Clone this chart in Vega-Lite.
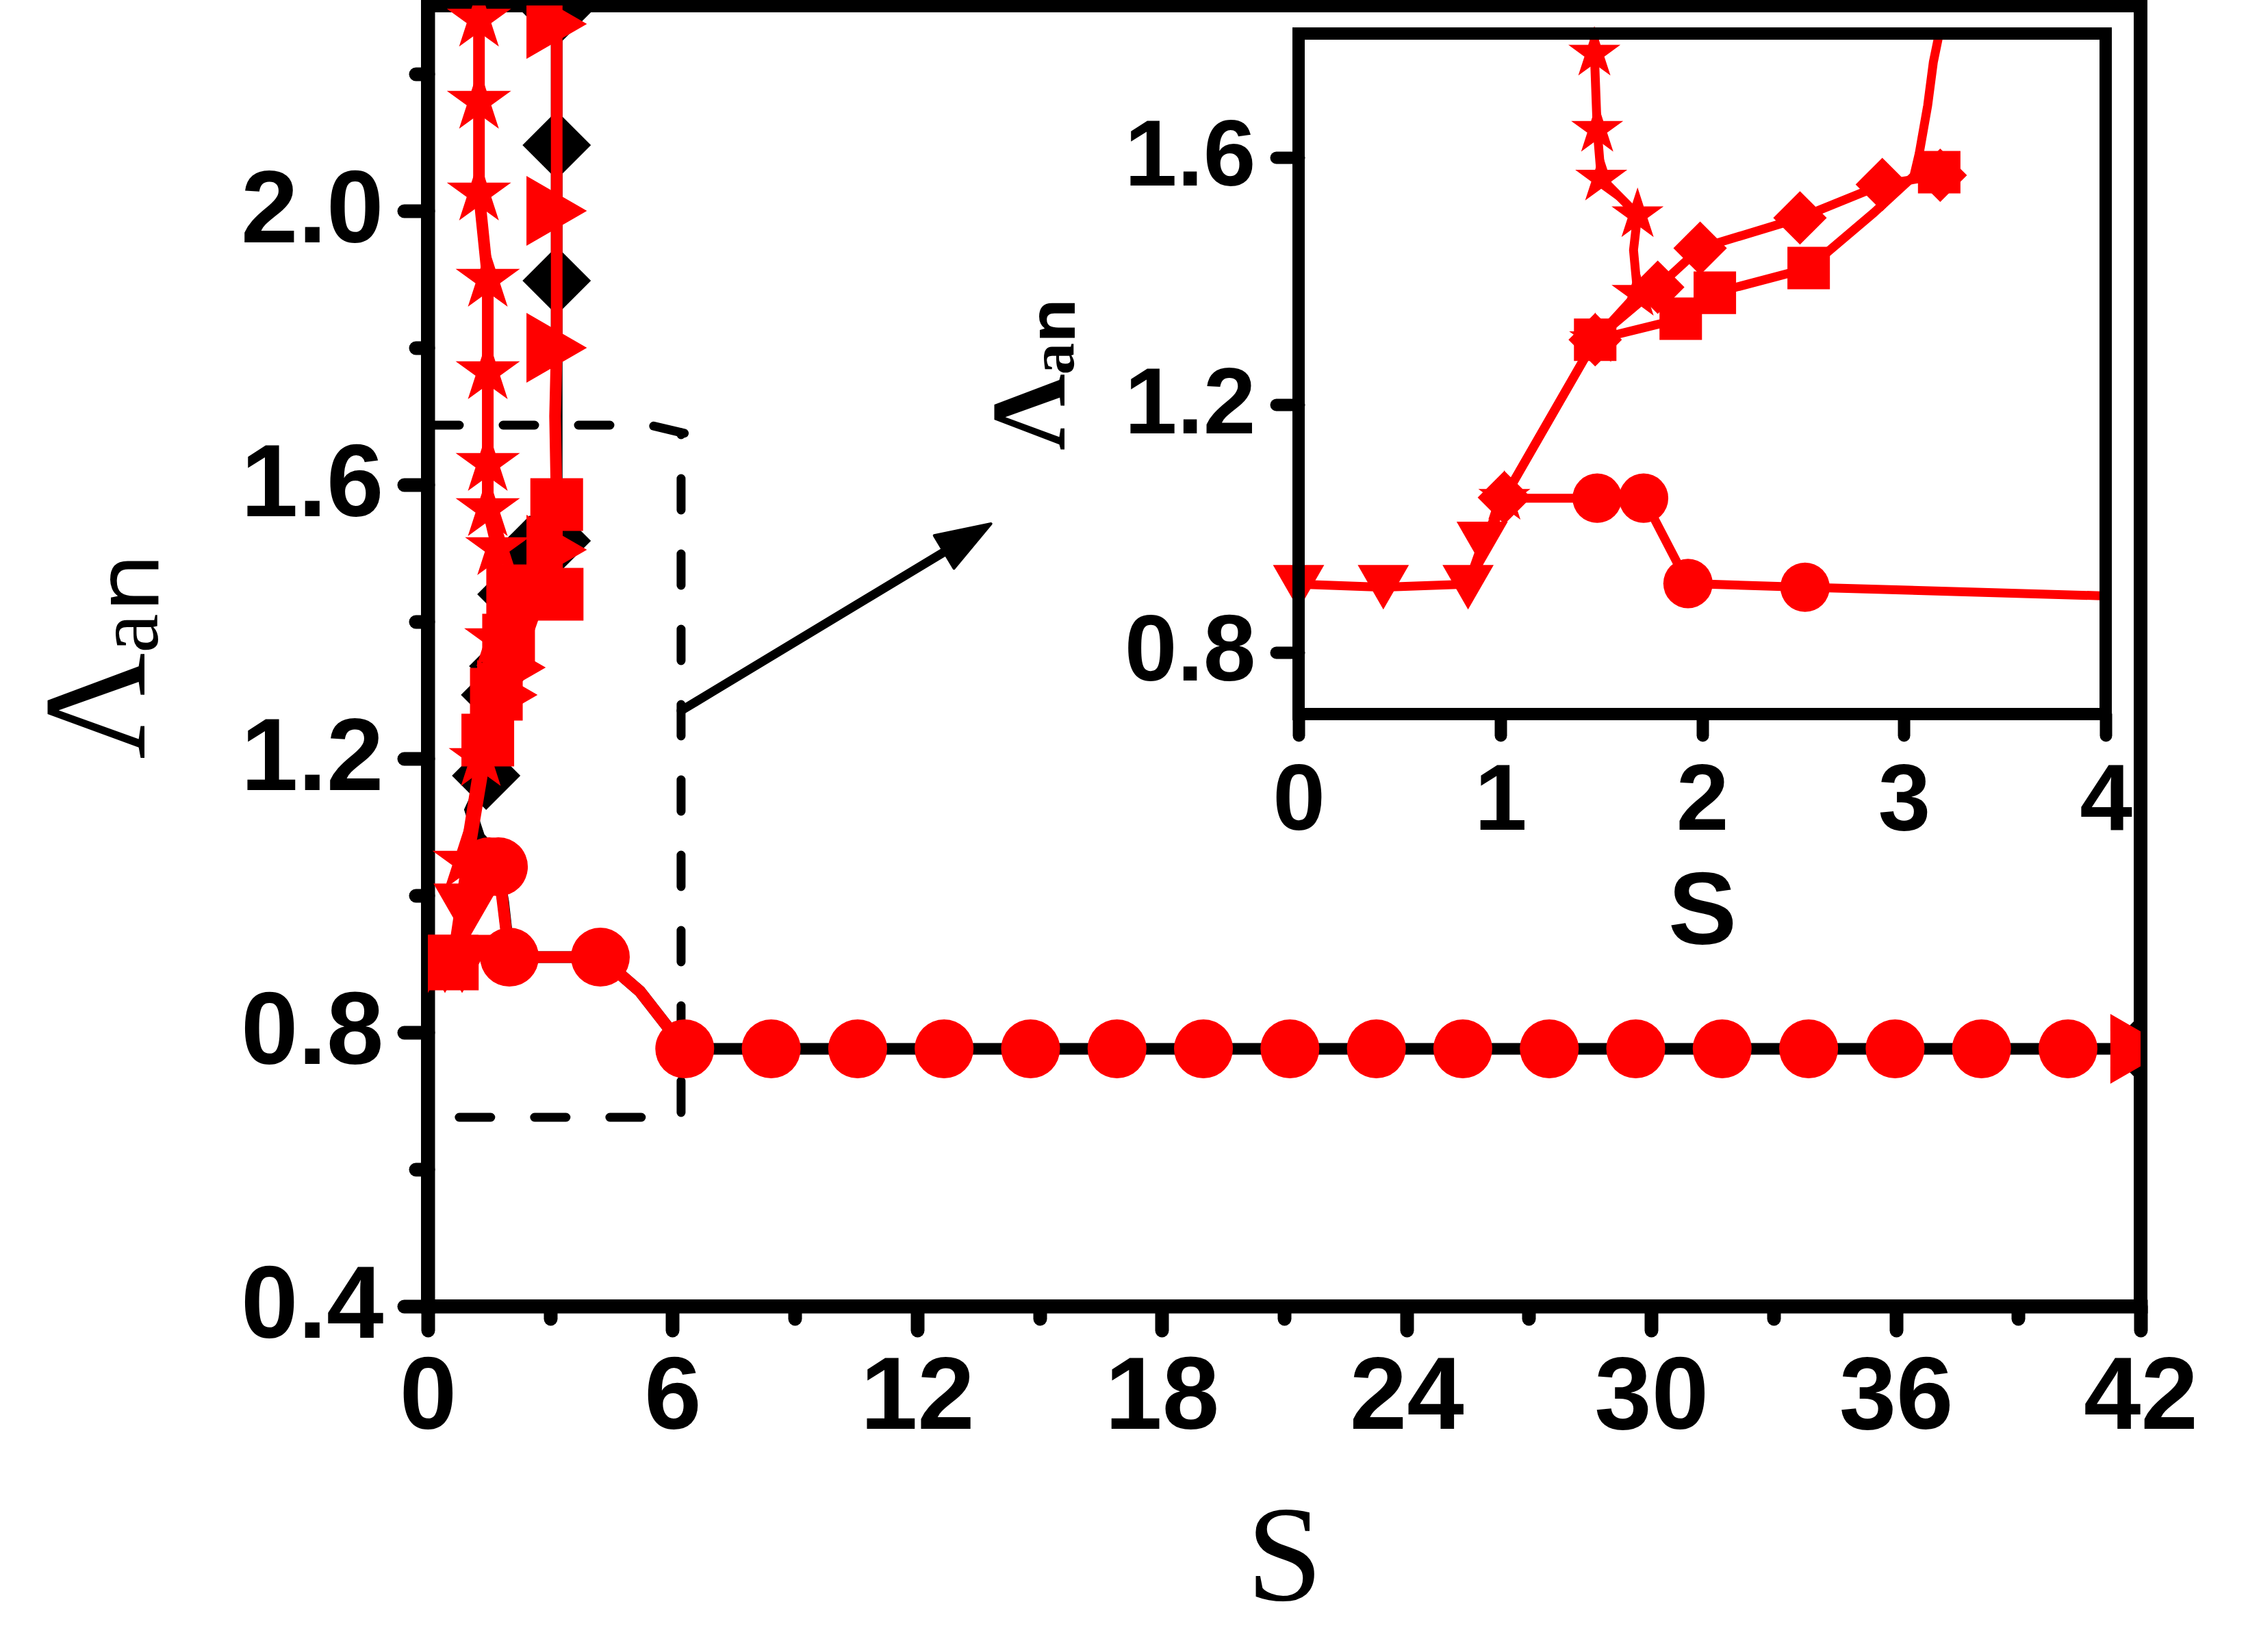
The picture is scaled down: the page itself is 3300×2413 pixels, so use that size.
{
  "$schema": "https://vega.github.io/schema/vega-lite/v6.json",
  "width": 2502,
  "height": 1900,
  "autosize": "none",
  "padding": {"left": 625, "top": 8, "right": 173, "bottom": 505},
  "background": "white",
  "config": {"view": {"stroke": "black", "strokeWidth": 20}, "axis": {"grid": false, "labelLimit": 1000}},
  "datasets": {
    "mainLine": [
      {"g": "tri", "i": 0, "S": 0, "L": 0.905}, {"g": "tri", "i": 1, "S": 0.42, "L": 0.905}, {"g": "tri", "i": 2, "S": 0.84, "L": 0.905}, {"g": "tri", "i": 3, "S": 0.96, "L": 0.975}, {"g": "tri", "i": 4, "S": 1.05, "L": 1.05},
      {"g": "circ", "i": 0, "S": 1.05, "L": 1.045}, {"g": "circ", "i": 1, "S": 1.5, "L": 1.042}, {"g": "circ", "i": 2, "S": 1.73, "L": 1.042}, {"g": "circ", "i": 3, "S": 2.0, "L": 0.91}, {"g": "circ", "i": 4, "S": 4.23, "L": 0.91}, {"g": "circ", "i": 5, "S": 5.2, "L": 0.86}, {"g": "circ", "i": 6, "S": 6.3, "L": 0.776},
      {"g": "star", "i": 0, "S": 0.9, "L": 1.05}, {"g": "star", "i": 1, "S": 1.3, "L": 1.2}, {"g": "star", "i": 2, "S": 1.68, "L": 1.375}, {"g": "star", "i": 3, "S": 1.7, "L": 1.508}, {"g": "star", "i": 4, "S": 1.47, "L": 1.565}, {"g": "star", "i": 5, "S": 1.47, "L": 1.631}, {"g": "star", "i": 6, "S": 1.47, "L": 1.765}, {"g": "star", "i": 7, "S": 1.47, "L": 1.9}, {"g": "star", "i": 8, "S": 1.254, "L": 2.026}, {"g": "star", "i": 9, "S": 1.254, "L": 2.16}, {"g": "star", "i": 10, "S": 1.254, "L": 2.28}, {"g": "star", "i": 11, "S": 1.254, "L": 2.4},
      {"g": "sq", "i": 0, "S": 0.6, "L": 0.9}, {"g": "sq", "i": 1, "S": 1.0, "L": 1.06}, {"g": "sq", "i": 2, "S": 1.47, "L": 1.227}, {"g": "sq", "i": 3, "S": 1.68, "L": 1.294}, {"g": "sq", "i": 4, "S": 1.98, "L": 1.373}, {"g": "sq", "i": 5, "S": 2.08, "L": 1.445}, {"g": "sq", "i": 6, "S": 3.17, "L": 1.44}, {"g": "sq", "i": 7, "S": 3.16, "L": 1.571}, {"g": "sq", "i": 8, "S": 3.12, "L": 1.7}, {"g": "sq", "i": 9, "S": 3.16, "L": 1.8}, {"g": "sq", "i": 10, "S": 3.16, "L": 2.0}, {"g": "sq", "i": 11, "S": 3.16, "L": 2.273}, {"g": "sq", "i": 12, "S": 3.16, "L": 2.4},
      {"g": "trir", "i": 0, "S": 1.47, "L": 1.2}, {"g": "trir", "i": 1, "S": 1.95, "L": 1.293}, {"g": "trir", "i": 2, "S": 2.15, "L": 1.333}, {"g": "trir", "i": 3, "S": 3.16, "L": 1.505}, {"g": "trir", "i": 4, "S": 3.16, "L": 1.571}
    ],
    "blkLine": [
      {"i": 0, "S": 42, "L": 0.776}, {"i": 1, "S": 6.3, "L": 0.776}, {"i": 2, "S": 5.2, "L": 0.86}, {"i": 3, "S": 4.23, "L": 0.91}, {"i": 4, "S": 2.0, "L": 0.91}, {"i": 5, "S": 1.85, "L": 0.99}, {"i": 6, "S": 1.65, "L": 1.06}, {"i": 7, "S": 1.26, "L": 1.085}, {"i": 8, "S": 1.04, "L": 1.125}, {"i": 9, "S": 1.43, "L": 1.175}, {"i": 10, "S": 1.65, "L": 1.293}, {"i": 11, "S": 1.85, "L": 1.335}, {"i": 12, "S": 2.05, "L": 1.44}, {"i": 13, "S": 2.5, "L": 1.505}, {"i": 14, "S": 3.16, "L": 1.518}, {"i": 15, "S": 3.16, "L": 1.898}, {"i": 16, "S": 3.16, "L": 2.096}, {"i": 17, "S": 3.16, "L": 2.29}, {"i": 18, "S": 3.16, "L": 2.4}
    ],
    "mainPts": [
      {"g": "blk", "S": 1.43, "L": 1.175}, {"g": "blk", "S": 1.65, "L": 1.293}, {"g": "blk", "S": 1.85, "L": 1.335}, {"g": "blk", "S": 2.05, "L": 1.44}, {"g": "blk", "S": 2.5, "L": 1.505}, {"g": "blk", "S": 3.16, "L": 1.518}, {"g": "blk", "S": 3.16, "L": 1.898}, {"g": "blk", "S": 3.16, "L": 2.096}, {"g": "blk", "S": 3.16, "L": 2.29}, {"g": "blk", "S": 42, "L": 0.776},
      {"g": "tri", "S": 0, "L": 0.9}, {"g": "tri", "S": 0.42, "L": 0.9}, {"g": "tri", "S": 0.84, "L": 0.9}, {"g": "tri", "S": 0.96, "L": 0.975},
      {"g": "sq", "S": 0.6, "L": 0.9}, {"g": "sq", "S": 1.47, "L": 1.227}, {"g": "sq", "S": 1.68, "L": 1.294}, {"g": "sq", "S": 1.98, "L": 1.373}, {"g": "sq", "S": 2.08, "L": 1.445}, {"g": "sq", "S": 3.17, "L": 1.44}, {"g": "sq", "S": 3.16, "L": 1.571},
      {"g": "trir", "S": 1.95, "L": 1.293}, {"g": "trir", "S": 2.15, "L": 1.333}, {"g": "trir", "S": 3.16, "L": 1.505}, {"g": "trir", "S": 3.16, "L": 1.8}, {"g": "trir", "S": 3.16, "L": 2.0}, {"g": "trir", "S": 3.16, "L": 2.273}, {"g": "trir", "S": 42, "L": 0.776},
      {"g": "star", "S": 0.9, "L": 1.05}, {"g": "star", "S": 1.3, "L": 1.2}, {"g": "star", "S": 1.68, "L": 1.375}, {"g": "star", "S": 1.7, "L": 1.508}, {"g": "star", "S": 1.47, "L": 1.565}, {"g": "star", "S": 1.47, "L": 1.631}, {"g": "star", "S": 1.47, "L": 1.765}, {"g": "star", "S": 1.47, "L": 1.9}, {"g": "star", "S": 1.254, "L": 2.026}, {"g": "star", "S": 1.254, "L": 2.16}, {"g": "star", "S": 1.254, "L": 2.28},
      {"g": "circ", "S": 1.5, "L": 1.042}, {"g": "circ", "S": 1.73, "L": 1.042}, {"g": "circ", "S": 2.0, "L": 0.91}, {"g": "circ", "S": 4.23, "L": 0.91}, {"g": "circ", "S": 6.3, "L": 0.776}, {"g": "circ", "S": 8.42, "L": 0.776}, {"g": "circ", "S": 10.54, "L": 0.776}, {"g": "circ", "S": 12.66, "L": 0.776}, {"g": "circ", "S": 14.78, "L": 0.776}, {"g": "circ", "S": 16.9, "L": 0.776}, {"g": "circ", "S": 19.02, "L": 0.776}, {"g": "circ", "S": 21.14, "L": 0.776}, {"g": "circ", "S": 23.26, "L": 0.776}, {"g": "circ", "S": 25.38, "L": 0.776}, {"g": "circ", "S": 27.5, "L": 0.776}, {"g": "circ", "S": 29.62, "L": 0.776}, {"g": "circ", "S": 31.74, "L": 0.776}, {"g": "circ", "S": 33.86, "L": 0.776}, {"g": "circ", "S": 35.98, "L": 0.776}, {"g": "circ", "S": 38.1, "L": 0.776}, {"g": "circ", "S": 40.22, "L": 0.776}
    ],
    "box": [
      {"g": "top", "i": 0, "S": 0, "L": 1.687}, {"g": "top", "i": 1, "S": 5.45, "L": 1.687}, {"g": "top", "i": 2, "S": 6.3, "L": 1.675},
      {"g": "right", "i": 0, "S": 6.21, "L": 0.683}, {"g": "right", "i": 1, "S": 6.21, "L": 1.676},
      {"g": "bottom", "i": 0, "S": 0.77, "L": 0.676}, {"g": "bottom", "i": 1, "S": 6.21, "L": 0.676}
    ],
    "arrow": [
      {"i": 0, "S": 6.21, "L": 1.27}, {"i": 1, "S": 13.235, "L": 1.5224}
    ],
    "insFrame": [
      {"S": 0, "S2": 4, "L": 0.7, "L2": 1.8}
    ],
    "insLine": [
      {"g": "tri", "i": 0, "S": 0, "L": 0.91}, {"g": "tri", "i": 1, "S": 0.42, "L": 0.905}, {"g": "tri", "i": 2, "S": 0.84, "L": 0.91}, {"g": "tri", "i": 3, "S": 0.91, "L": 0.975}, {"g": "tri", "i": 4, "S": 1.02, "L": 1.05},
      {"g": "circ", "i": 0, "S": 1.02, "L": 1.049}, {"g": "circ", "i": 1, "S": 1.48, "L": 1.049}, {"g": "circ", "i": 2, "S": 1.71, "L": 1.049}, {"g": "circ", "i": 3, "S": 1.93, "L": 0.911}, {"g": "circ", "i": 4, "S": 2.51, "L": 0.905}, {"g": "circ", "i": 5, "S": 4.0, "L": 0.891},
      {"g": "star", "i": 0, "S": 1.02, "L": 1.05}, {"g": "star", "i": 1, "S": 1.47, "L": 1.305}, {"g": "star", "i": 2, "S": 1.68, "L": 1.38}, {"g": "star", "i": 3, "S": 1.66, "L": 1.45}, {"g": "star", "i": 4, "S": 1.68, "L": 1.507}, {"g": "star", "i": 5, "S": 1.5, "L": 1.566}, {"g": "star", "i": 6, "S": 1.48, "L": 1.645}, {"g": "star", "i": 7, "S": 1.466, "L": 1.768}, {"g": "star", "i": 8, "S": 1.466, "L": 1.8},
      {"g": "dia", "i": 0, "S": 0.84, "L": 0.9}, {"g": "dia", "i": 1, "S": 1.02, "L": 1.05}, {"g": "dia", "i": 2, "S": 1.47, "L": 1.305}, {"g": "dia", "i": 3, "S": 1.78, "L": 1.39}, {"g": "dia", "i": 4, "S": 1.99, "L": 1.453}, {"g": "dia", "i": 5, "S": 2.485, "L": 1.502}, {"g": "dia", "i": 6, "S": 2.893, "L": 1.556}, {"g": "dia", "i": 7, "S": 3.18, "L": 1.571},
      {"g": "sq", "i": 0, "S": 1.47, "L": 1.305}, {"g": "sq", "i": 1, "S": 1.894, "L": 1.339}, {"g": "sq", "i": 2, "S": 2.063, "L": 1.381}, {"g": "sq", "i": 3, "S": 2.528, "L": 1.421}, {"g": "sq", "i": 4, "S": 2.85, "L": 1.51}, {"g": "sq", "i": 5, "S": 3.05, "L": 1.57}, {"g": "sq", "i": 6, "S": 3.076, "L": 1.606}, {"g": "sq", "i": 7, "S": 3.118, "L": 1.684}, {"g": "sq", "i": 8, "S": 3.146, "L": 1.754}, {"g": "sq", "i": 9, "S": 3.175, "L": 1.8}
    ],
    "insPts": [
      {"g": "tri", "S": 0, "L": 0.905}, {"g": "tri", "S": 0.42, "L": 0.905}, {"g": "tri", "S": 0.84, "L": 0.905}, {"g": "tri", "S": 0.91, "L": 0.975},
      {"g": "sq", "S": 1.47, "L": 1.305}, {"g": "sq", "S": 1.894, "L": 1.339}, {"g": "sq", "S": 2.063, "L": 1.381}, {"g": "sq", "S": 2.528, "L": 1.421}, {"g": "sq", "S": 3.175, "L": 1.576},
      {"g": "dia", "S": 1.02, "L": 1.05}, {"g": "dia", "S": 1.47, "L": 1.305}, {"g": "dia", "S": 1.78, "L": 1.39}, {"g": "dia", "S": 1.99, "L": 1.453}, {"g": "dia", "S": 2.485, "L": 1.502}, {"g": "dia", "S": 2.893, "L": 1.556}, {"g": "dia", "S": 3.18, "L": 1.571},
      {"g": "star", "S": 1.02, "L": 1.05}, {"g": "star", "S": 1.47, "L": 1.305}, {"g": "star", "S": 1.68, "L": 1.38}, {"g": "star", "S": 1.68, "L": 1.507}, {"g": "star", "S": 1.5, "L": 1.566}, {"g": "star", "S": 1.48, "L": 1.645}, {"g": "star", "S": 1.466, "L": 1.768},
      {"g": "circ", "S": 1.48, "L": 1.049}, {"g": "circ", "S": 1.71, "L": 1.049}, {"g": "circ", "S": 1.93, "L": 0.911}, {"g": "circ", "S": 2.51, "L": 0.905}
    ]
  },
  "layer": [
    {
      "encoding": {
        "x": {
          "field": "S", "type": "quantitative",
          "scale": {"domain": [0, 42], "nice": false, "zero": false},
          "axis": {
            "values": [0, 3, 6, 9, 12, 15, 18, 21, 24, 27, 30, 33, 36, 39, 42],
            "labelExpr": "datum.value % 6 === 0 ? datum.label : ''",
            "format": "d",
            "labelFont": "Liberation Sans", "labelFontWeight": "bold", "labelFontSize": 150, "labelColor": "black",
            "labelPadding": 24, "labelOverlap": false, "labelFlush": false, "labelBound": false, "labelLimit": 1000,
            "tickSize": {"condition": {"test": "datum.value % 6 === 0", "value": 35}, "value": 18},
            "tickWidth": 20, "tickColor": "black", "tickCap": "round",
            "domainColor": "black", "domainWidth": 20, "domainCap": "square",
            "title": "S", "titleFont": "Liberation Serif", "titleFontSize": 200, "titleFontWeight": "normal", "titleColor": "black", "titlePadding": 70
          }
        },
        "y": {
          "field": "L", "type": "quantitative",
          "scale": {"domain": [0.4, 2.3], "nice": false, "zero": false},
          "axis": {
            "values": [0.4, 0.6, 0.8, 1.0, 1.2, 1.4, 1.6, 1.8, 2.0, 2.2],
            "labelExpr": "round(datum.value * 10) % 4 === 0 ? format(datum.value, '.1f') : ''",
            "labelFont": "Liberation Sans", "labelFontWeight": "bold", "labelFontSize": 150, "labelColor": "black",
            "labelPadding": 30, "labelOverlap": false, "labelFlush": false, "labelBound": false, "labelLimit": 1000,
            "tickSize": {"condition": {"test": "round(datum.value * 10) % 4 === 0", "value": 35}, "value": 18},
            "tickWidth": 20, "tickColor": "black", "tickCap": "round",
            "domainColor": "black", "domainWidth": 20, "domainCap": "square",
            "title": "Λₐₙ", "titleFont": "Liberation Serif, Noto Sans, DejaVu Sans, sans-serif", "titleFontSize": 215, "titleFontWeight": "normal", "titleColor": "black", "titlePadding": 170, "titleLimit": 2000
          }
        }
      },
      "layer": [
        {
          "data": {"name": "box"},
          "mark": {"type": "line", "color": "black", "strokeWidth": 13, "strokeDash": [46, 64], "strokeCap": "round", "clip": true},
          "encoding": {"detail": {"field": "g"}, "order": {"field": "i"}}
        },
        {
          "data": {"name": "arrow"},
          "mark": {"type": "line", "color": "black", "strokeWidth": 13, "strokeCap": "round"},
          "encoding": {"order": {"field": "i"}}
        },
        {
          "data": {"name": "arrow"},
          "transform": [{"filter": "datum.i === 1"}],
          "mark": {"type": "point", "filled": true, "color": "black", "opacity": 1, "shape": "M1,0L-1,-0.7L-1,0.7Z", "size": 6400, "angle": 329, "strokeJoin": "round", "stroke": "black", "strokeWidth": 4}
        },
        {
          "data": {"name": "blkLine"},
          "mark": {"type": "line", "color": "black", "strokeWidth": 17, "clip": true},
          "encoding": {"order": {"field": "i"}}
        },
        {
          "data": {"name": "mainPts"},
          "transform": [{"filter": "datum.g === 'blk'"}],
          "mark": {"type": "point", "filled": true, "color": "black", "opacity": 1, "shape": "diamond", "size": 10000, "clip": true}
        },
        {
          "data": {"name": "mainLine"},
          "mark": {"type": "line", "color": "#ff0000", "strokeWidth": 17, "clip": true},
          "encoding": {"detail": {"field": "g"}, "order": {"field": "i"}}
        },
        {
          "data": {"name": "mainPts"},
          "transform": [{"filter": "datum.g === 'tri'"}],
          "mark": {"type": "point", "filled": true, "color": "#ff0000", "opacity": 1, "shape": "triangle-down", "size": 9600, "clip": true}
        },
        {
          "data": {"name": "mainPts"},
          "transform": [{"filter": "datum.g === 'trir'"}],
          "mark": {"type": "point", "filled": true, "color": "#ff0000", "opacity": 1, "shape": "triangle-right", "size": 10400, "clip": true}
        },
        {
          "data": {"name": "mainPts"},
          "transform": [{"filter": "datum.g === 'sq'"}],
          "mark": {"type": "point", "filled": true, "color": "#ff0000", "opacity": 1, "shape": "square", "size": 5930, "clip": true}
        },
        {
          "data": {"name": "mainPts"},
          "transform": [{"filter": "datum.g === 'star'"}],
          "mark": {"type": "point", "filled": true, "color": "#ff0000", "opacity": 1, "shape": "M0,-1L0.2245,-0.309L0.951,-0.309L0.363,0.118L0.588,0.809L0,0.382L-0.588,0.809L-0.363,0.118L-0.951,-0.309L-0.2245,-0.309Z", "size": 9770, "clip": true}
        },
        {
          "data": {"name": "mainPts"},
          "transform": [{"filter": "datum.g === 'circ'"}],
          "mark": {"type": "point", "filled": true, "color": "#ff0000", "opacity": 1, "shape": "circle", "size": 7400, "clip": true}
        }
      ]
    },
    {
      "encoding": {
        "x": {
          "field": "S", "type": "quantitative",
          "scale": {"domain": [0, 4], "nice": false, "zero": false, "range": [1272, 2451]},
          "axis": {
            "orient": "bottom", "offset": -865,
            "values": [0, 1, 2, 3, 4], "format": "d",
            "labelFont": "Liberation Sans", "labelFontWeight": "bold", "labelFontSize": 138, "labelColor": "black",
            "labelPadding": 28, "labelOverlap": false, "labelFlush": false, "labelBound": false, "labelLimit": 1000,
            "tickSize": 31, "tickWidth": 18, "tickColor": "black", "tickCap": "round",
            "domain": false,
            "title": "S", "titleFont": "Liberation Sans", "titleFontSize": 150, "titleFontWeight": "bold", "titleColor": "black", "titlePadding": 20
          }
        },
        "y": {
          "field": "L", "type": "quantitative",
          "scale": {"domain": [0.7, 1.8], "nice": false, "zero": false, "range": [1035, 41]},
          "axis": {
            "orient": "left", "offset": -1272,
            "values": [0.8, 1.2, 1.6], "format": ".1f",
            "labelFont": "Liberation Sans", "labelFontWeight": "bold", "labelFontSize": 138, "labelColor": "black",
            "labelPadding": 30, "labelOverlap": false, "labelFlush": false, "labelBound": false, "labelLimit": 1000,
            "tickSize": 33, "tickWidth": 18, "tickColor": "black", "tickCap": "round",
            "domain": false,
            "title": "Λₐₙ", "titleFont": "Liberation Serif, Noto Sans, DejaVu Sans, sans-serif", "titleFontSize": 155, "titleFontWeight": "bold", "titleColor": "black", "titlePadding": 110, "titleLimit": 2000
          }
        }
      },
      "layer": [
        {
          "data": {"name": "insLine"},
          "mark": {"type": "line", "color": "#ff0000", "strokeWidth": 13},
          "encoding": {"detail": {"field": "g"}, "order": {"field": "i"}}
        },
        {
          "data": {"name": "insPts"},
          "transform": [{"filter": "datum.g === 'tri'"}],
          "mark": {"type": "point", "filled": true, "color": "#ff0000", "opacity": 1, "shape": "triangle-down", "size": 5600}
        },
        {
          "data": {"name": "insPts"},
          "transform": [{"filter": "datum.g === 'sq'"}],
          "mark": {"type": "point", "filled": true, "color": "#ff0000", "opacity": 1, "shape": "square", "size": 3850}
        },
        {
          "data": {"name": "insPts"},
          "transform": [{"filter": "datum.g === 'dia'"}],
          "mark": {"type": "point", "filled": true, "color": "#ff0000", "opacity": 1, "shape": "diamond", "size": 6100}
        },
        {
          "data": {"name": "insPts"},
          "transform": [{"filter": "datum.g === 'star'"}],
          "mark": {"type": "point", "filled": true, "color": "#ff0000", "opacity": 1, "shape": "M0,-1L0.2245,-0.309L0.951,-0.309L0.363,0.118L0.588,0.809L0,0.382L-0.588,0.809L-0.363,0.118L-0.951,-0.309L-0.2245,-0.309Z", "size": 6400}
        },
        {
          "data": {"name": "insPts"},
          "transform": [{"filter": "datum.g === 'circ'"}],
          "mark": {"type": "point", "filled": true, "color": "#ff0000", "opacity": 1, "shape": "circle", "size": 5200}
        },
        {
          "data": {"name": "insFrame"},
          "mark": {"type": "rect", "filled": false, "color": "black", "stroke": "black", "strokeWidth": 18, "strokeOpacity": 1},
          "encoding": {"x2": {"field": "S2"}, "y2": {"field": "L2"}}
        }
      ]
    }
  ],
  "resolve": {"scale": {"x": "independent", "y": "independent"}, "axis": {"x": "independent", "y": "independent"}}
}
